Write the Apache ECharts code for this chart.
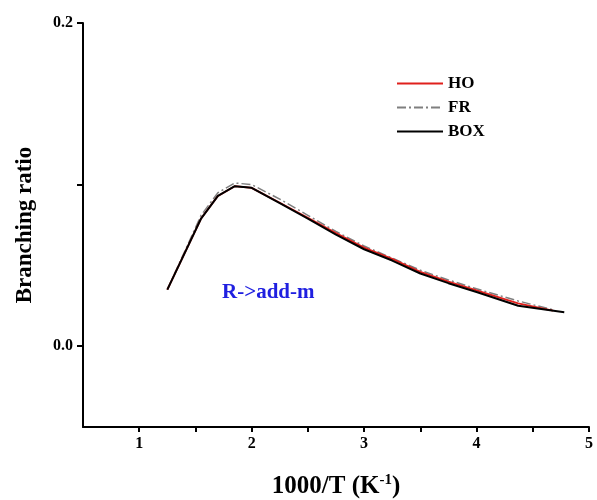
<!DOCTYPE html>
<html>
<head>
<meta charset="utf-8">
<script src="https://cdn.jsdelivr.net/npm/echarts@6/dist/echarts.min.js"></script>
<style>html,body{margin:0;padding:0;background:#fff}#c{width:597px;height:500px}</style>
</head>
<body>
<div id="c"></div>
<script>
var xBox = [1.25, 1.4, 1.55, 1.7, 1.85, 2.0, 2.25, 2.5, 2.75, 3.0, 3.25, 3.5, 3.75, 4.0, 4.37, 4.78];
var yBox = [0.035, 0.057, 0.079, 0.093, 0.099, 0.098, 0.0885, 0.079, 0.069, 0.060, 0.053, 0.045, 0.039, 0.0335, 0.025, 0.021];
var xHO = [1.25, 1.4, 1.55, 1.7, 1.85, 2.0, 2.25, 2.5, 2.75, 3.0, 3.25, 3.5, 3.75, 4.0, 4.37, 4.68];
var yHO = [0.035, 0.057, 0.079, 0.093, 0.099, 0.098, 0.0888, 0.0795, 0.070, 0.061, 0.054, 0.046, 0.040, 0.0345, 0.0265, 0.022];
var xFR = [1.25, 1.4, 1.55, 1.7, 1.85, 2.0, 2.25, 2.5, 2.75, 3.0, 3.25, 3.5, 3.75, 4.0, 4.37, 4.68];
var yFR = [0.035, 0.058, 0.081, 0.095, 0.101, 0.100, 0.091, 0.081, 0.071, 0.062, 0.0545, 0.047, 0.041, 0.0355, 0.028, 0.0225];
var xTicks = [1, 1.5, 2, 2.5, 3, 3.5, 4, 4.5, 5];
var xLabels = [1, 2, 3, 4, 5];
var yTicks = [0, 0.1, 0.2];
var yLabels = [0, 0.2];
var seriesNames = ['HO', 'FR', 'BOX'];

function pairs(xs, ys) { return xs.map(function (x, i) { return [x, ys[i]]; }); }

var font = '"Liberation Serif", "Times New Roman", serif';
var chart = echarts.init(document.getElementById('c'));
var tickStyle = { width: 2, color: '#000' };
chart.setOption({
  animation: false,
  backgroundColor: '#fff',
  grid: { left: 83, top: 23, right: 8, bottom: 73, outerBoundsMode: 'none', containLabel: false },
  legend: {
    orient: 'vertical', left: 396, top: 75, itemWidth: 46, itemHeight: 10, itemGap: 7,
    padding: 0,
    data: [seriesNames[0], seriesNames[1], seriesNames[2]],
    itemStyle: { opacity: 0 },
    textStyle: { fontFamily: font, fontWeight: 'bold', fontSize: 17, color: '#000' }
  },
  xAxis: {
    type: 'value', min: 0.5, max: 5,
    name: '{a|1000/T (K}{s|-1}{a|)}', nameLocation: 'middle', nameGap: 46,
    nameTextStyle: { rich: {
      a: { fontFamily: font, fontWeight: 'bold', fontSize: 25, color: '#000' },
      s: { fontFamily: font, fontWeight: 'bold', fontSize: 15, color: '#000', verticalAlign: 'top', padding: [0, 0, 12, 0] }
    } },
    axisLine: { show: true, onZero: false, lineStyle: { color: '#000', width: 2 } },
    axisTick: { show: true, customValues: xTicks, length: 5, lineStyle: tickStyle },
    axisLabel: { customValues: xLabels, fontFamily: font, fontWeight: 'bold', fontSize: 16, color: '#000', margin: 9 },
    splitLine: { show: false }
  },
  yAxis: {
    type: 'value', min: -0.05, max: 0.2,
    name: 'Branching ratio', nameLocation: 'middle', nameGap: 46,
    nameTextStyle: { fontFamily: font, fontWeight: 'bold', fontSize: 23, color: '#000' },
    axisLine: { show: true, onZero: false, lineStyle: { color: '#000', width: 2 } },
    axisTick: { show: true, customValues: yTicks, length: 6, lineStyle: tickStyle },
    axisLabel: { customValues: yLabels, fontFamily: font, fontWeight: 'bold', fontSize: 16, color: '#000', margin: 10,
      formatter: function (v) { return v.toFixed(1); } },
    splitLine: { show: false }
  },
  graphic: [{
    type: 'text', left: 222, top: 282,
    style: { text: 'R->add-m', fill: '#1f1fe0', font: 'bold 21px "Liberation Serif"' }
  }],
  series: [{
    name: seriesNames[1], type: 'line', data: pairs(xFR, yFR), symbol: 'none', z: 2,
    lineStyle: { color: '#7f7f7f', width: 1.5, type: [9, 3, 2, 3] }, itemStyle: { color: '#7f7f7f' }
  }, {
    name: seriesNames[0], type: 'line', data: pairs(xHO, yHO), symbol: 'none', z: 3,
    lineStyle: { color: '#e0201c', width: 1.8 }, itemStyle: { color: '#e0201c' }
  }, {
    name: seriesNames[2], type: 'line', data: pairs(xBox, yBox), symbol: 'none', z: 4,
    lineStyle: { color: '#000', width: 2 }, itemStyle: { color: '#000' }
  }]
});
</script>
</body>
</html>
